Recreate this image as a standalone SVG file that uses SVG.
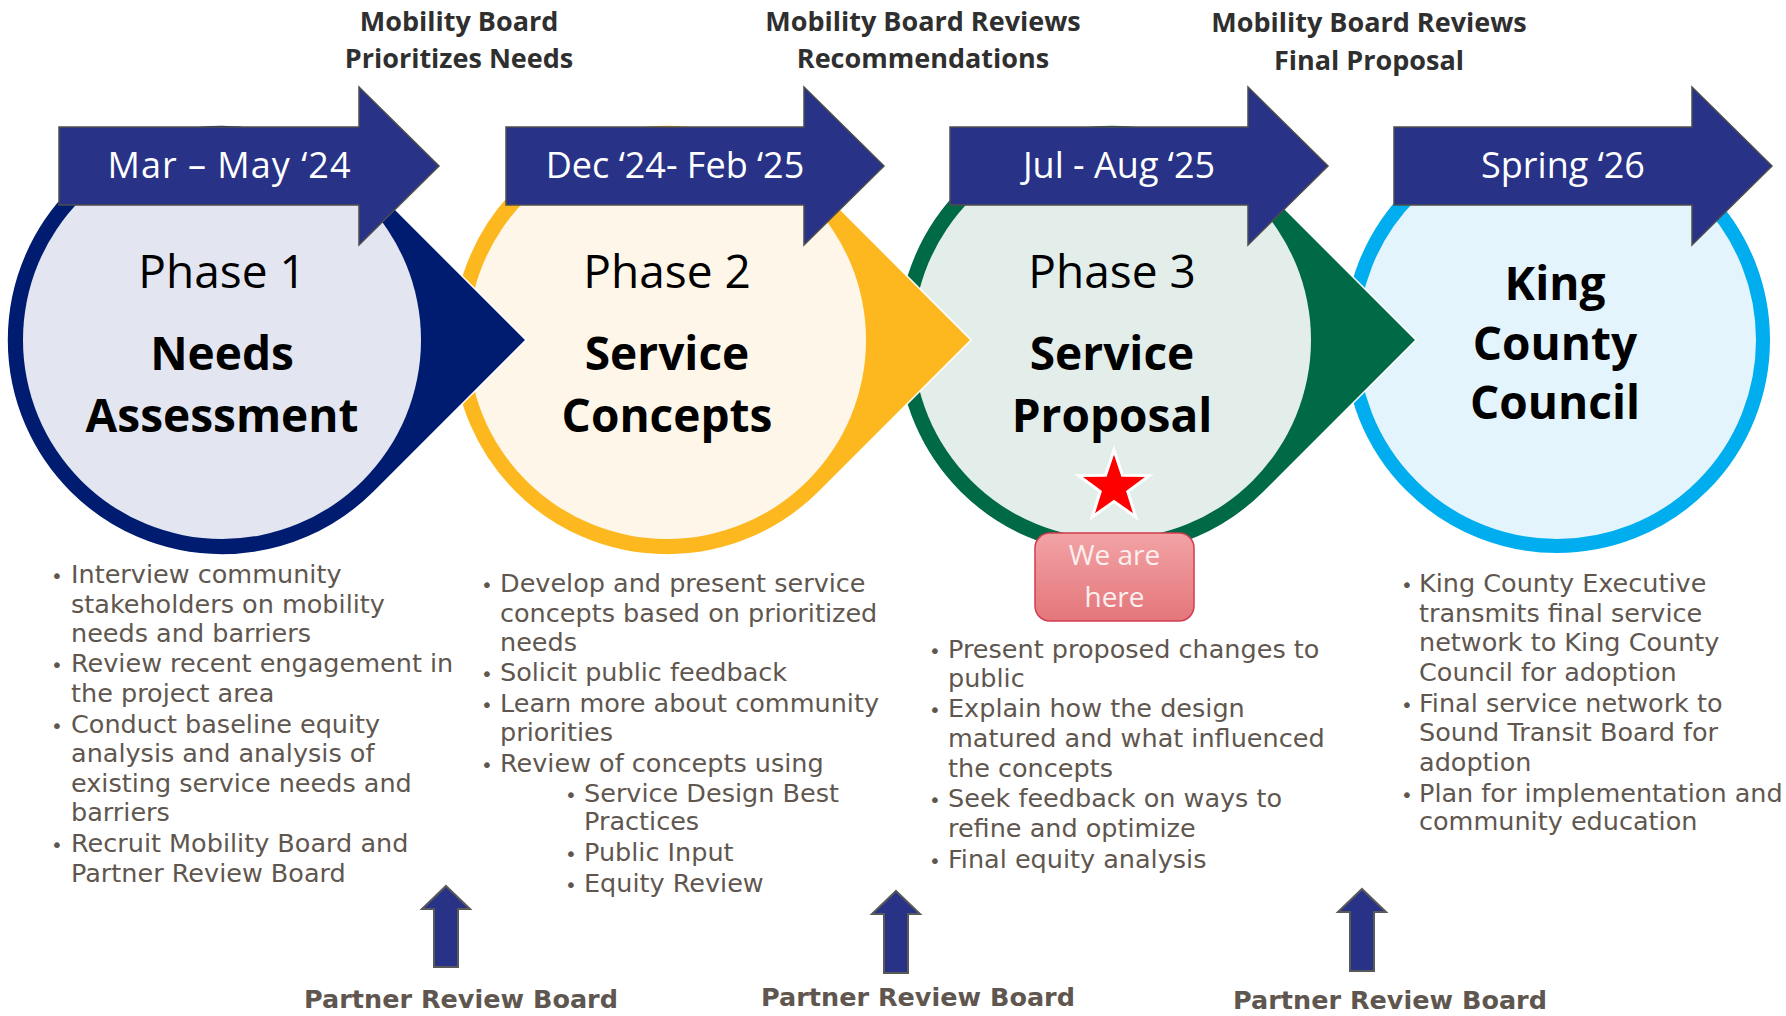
<svg xmlns="http://www.w3.org/2000/svg" width="1786" height="1016" viewBox="0 0 1786 1016">
<defs>
<style>
.body{font-family:"DejaVu Sans",Verdana,sans-serif;font-size:25.5px;fill:#5F574F}
.bul{font-family:"DejaVu Sans",Verdana,sans-serif;font-size:20px;fill:#5F574F;text-anchor:middle}
.ph{font-family:"Open Sans",sans-serif;font-size:46px;fill:#000;text-anchor:middle}
.phb{font-family:"Open Sans",sans-serif;font-size:46px;font-weight:bold;fill:#000;text-anchor:middle}
.ban{font-family:"Open Sans",sans-serif;font-size:36px;fill:#fff;text-anchor:middle}
.top{font-family:"Open Sans",sans-serif;font-size:27px;font-weight:bold;fill:#2F2F2F;text-anchor:middle}
.prb{font-family:"DejaVu Sans",Verdana,sans-serif;font-size:25.5px;font-weight:bold;fill:#5F574F;text-anchor:middle}
.banner{fill:#283387;stroke:#4D4D4D;stroke-width:1.5}
.up{fill:#283387;stroke:#595959;stroke-width:2}
.drop{stroke:#ffffff;stroke-width:1.5}
</style>
<linearGradient id="pink" x1="0" y1="0" x2="0" y2="1">
<stop offset="0" stop-color="#F2A3A5"/>
<stop offset="1" stop-color="#E4767B"/>
</linearGradient>
</defs>
<rect width="1786" height="1016" fill="#ffffff"/>

<!-- circle 4 -->
<g id="council">
<circle cx="1557" cy="340" r="206" fill="#E3F4FC" stroke="#00AEEF" stroke-width="14"/>
<text class="phb" x="1555" y="300">King</text>
<text class="phb" x="1555" y="360">County</text>
<text class="phb" x="1555" y="419">Council</text>
</g>

<!-- circle 3 -->
<g id="phase3">
<path class="drop" d="M1264,188 L1416,340 L1264,492 A215,215 0 1,1 1264,188 Z" fill="#006946"/>
<circle cx="1112" cy="340" r="199" fill="#E3EEEB"/>
<text class="ph" x="1112" y="288">Phase 3</text>
<text class="phb" x="1112" y="370">Service</text>
<text class="phb" x="1112" y="432">Proposal</text>
</g>

<!-- circle 2 -->
<g id="phase2">
<path class="drop" d="M819,188 L971,340 L819,492 A215,215 0 1,1 819,188 Z" fill="#FDB71F"/>
<circle cx="667" cy="340" r="199" fill="#FEF6E8"/>
<text class="ph" x="667" y="288">Phase 2</text>
<text class="phb" x="667" y="370">Service</text>
<text class="phb" x="667" y="432">Concepts</text>
</g>

<!-- circle 1 -->
<g id="phase1">
<path class="drop" d="M374,188 L526,340 L374,492 A215,215 0 1,1 374,188 Z" fill="#001C71"/>
<circle cx="222" cy="340" r="199" fill="#E3E6F0"/>
<text class="ph" x="222" y="288">Phase 1</text>
<text class="phb" x="222" y="370">Needs</text>
<text class="phb" x="222" y="432">Assessment</text>
</g>

<!-- banners -->
<g id="banner1">
<path class="banner" d="M59,127 H359 V87 L439,166 L359,245 V205 H59 Z"/>
<text class="ban" x="229" y="178" textLength="243" lengthAdjust="spacing">Mar – May ‘24</text>
</g>
<g id="banner2">
<path class="banner" d="M506,127 H804 V87 L884,166 L804,245 V205 H506 Z"/>
<text class="ban" x="675" y="178">Dec ‘24- Feb ‘25</text>
</g>
<g id="banner3">
<path class="banner" d="M950,127 H1248 V87 L1328,166 L1248,245 V205 H950 Z"/>
<text class="ban" x="1119" y="178">Jul - Aug ‘25</text>
</g>
<g id="banner4">
<path class="banner" d="M1394,127 H1692 V87 L1772,166 L1692,245 V205 H1394 Z"/>
<text class="ban" x="1563" y="178">Spring ‘26</text>
</g>

<!-- top labels -->
<g id="mb1">
<text class="top" x="459" y="31">Mobility Board</text>
<text class="top" x="459" y="68">Prioritizes Needs</text>
</g>
<g id="mb2">
<text class="top" x="923" y="31">Mobility Board Reviews</text>
<text class="top" x="923" y="68">Recommendations</text>
</g>
<g id="mb3">
<text class="top" x="1369" y="32">Mobility Board Reviews</text>
<text class="top" x="1369" y="70">Final Proposal</text>
</g>

<!-- we are here -->
<g id="marker">
<polygon points="1114,450 1122.5,475.3 1149.2,475.6 1127.8,491.5 1135.7,516.9 1114,501.5 1092.3,516.9 1100.2,491.5 1078.8,475.6 1105.5,475.3" fill="#FF0000" stroke="#ffffff" stroke-width="3" stroke-linejoin="miter"/>
<rect x="1035" y="533" width="159" height="88" rx="15" ry="15" fill="url(#pink)" stroke="#D23C50" stroke-width="1.5"/>
<text x="1114.5" y="565" font-family="Open Sans, sans-serif" font-size="28" fill="#FBEFEF" text-anchor="middle">We are</text>
<text x="1114.5" y="607" font-family="Open Sans, sans-serif" font-size="28" fill="#FBEFEF" text-anchor="middle">here</text>
</g>

<!-- column 1 -->
<g id="list1">
<text class="bul" x="57" y="583">•</text><text class="body" x="71" y="583">Interview community</text>
<text class="body" x="71" y="613">stakeholders on mobility</text>
<text class="body" x="71" y="642">needs and barriers</text>
<text class="bul" x="57" y="672">•</text><text class="body" x="71" y="672">Review recent engagement in</text>
<text class="body" x="71" y="702">the project area</text>
<text class="bul" x="57" y="733">•</text><text class="body" x="71" y="733">Conduct baseline equity</text>
<text class="body" x="71" y="762">analysis and analysis of</text>
<text class="body" x="71" y="792">existing service needs and</text>
<text class="body" x="71" y="821">barriers</text>
<text class="bul" x="57" y="852">•</text><text class="body" x="71" y="852">Recruit Mobility Board and</text>
<text class="body" x="71" y="882">Partner Review Board</text>
</g>

<!-- column 2 -->
<g id="list2">
<text class="bul" x="487" y="592">•</text><text class="body" x="500" y="592">Develop and present service</text>
<text class="body" x="500" y="622">concepts based on prioritized</text>
<text class="body" x="500" y="651">needs</text>
<text class="bul" x="487" y="681">•</text><text class="body" x="500" y="681">Solicit public feedback</text>
<text class="bul" x="487" y="712">•</text><text class="body" x="500" y="712">Learn more about community</text>
<text class="body" x="500" y="741">priorities</text>
<text class="bul" x="487" y="772">•</text><text class="body" x="500" y="772">Review of concepts using</text>
<text class="bul" x="571" y="802">•</text><text class="body" x="584" y="802">Service Design Best</text>
<text class="body" x="584" y="830">Practices</text>
<text class="bul" x="571" y="861">•</text><text class="body" x="584" y="861">Public Input</text>
<text class="bul" x="571" y="892">•</text><text class="body" x="584" y="892">Equity Review</text>
</g>

<!-- column 3 -->
<g id="list3">
<text class="bul" x="935" y="658">•</text><text class="body" x="948" y="658">Present proposed changes to</text>
<text class="body" x="948" y="687">public</text>
<text class="bul" x="935" y="717">•</text><text class="body" x="948" y="717">Explain how the design</text>
<text class="body" x="948" y="747">matured and what influenced</text>
<text class="body" x="948" y="777">the concepts</text>
<text class="bul" x="935" y="807">•</text><text class="body" x="948" y="807">Seek feedback on ways to</text>
<text class="body" x="948" y="837">refine and optimize</text>
<text class="bul" x="935" y="868">•</text><text class="body" x="948" y="868">Final equity analysis</text>
</g>

<!-- column 4 -->
<g id="list4">
<text class="bul" x="1407" y="592">•</text><text class="body" x="1419" y="592">King County Executive</text>
<text class="body" x="1419" y="622">transmits final service</text>
<text class="body" x="1419" y="651">network to King County</text>
<text class="body" x="1419" y="681">Council for adoption</text>
<text class="bul" x="1407" y="712">•</text><text class="body" x="1419" y="712">Final service network to</text>
<text class="body" x="1419" y="741">Sound Transit Board for</text>
<text class="body" x="1419" y="771">adoption</text>
<text class="bul" x="1407" y="802">•</text><text class="body" x="1419" y="802">Plan for implementation and</text>
<text class="body" x="1419" y="830">community education</text>
</g>

<!-- connectors: up arrows -->
<g id="connectors">
<path class="up" d="M446,886 L470,909 L458,909 L458,967 L434,967 L434,909 L422,909 Z"/>
<path class="up" d="M896,891 L920,914 L908,914 L908,973 L884,973 L884,914 L872,914 Z"/>
<path class="up" d="M1362,889 L1386,912 L1374,912 L1374,971 L1350,971 L1350,912 L1338,912 Z"/>
</g>

<!-- partner review board labels -->
<g id="prb1"><text class="prb" x="461" y="1008">Partner Review Board</text></g>
<g id="prb2"><text class="prb" x="918" y="1006">Partner Review Board</text></g>
<g id="prb3"><text class="prb" x="1390" y="1009">Partner Review Board</text></g>
</svg>
